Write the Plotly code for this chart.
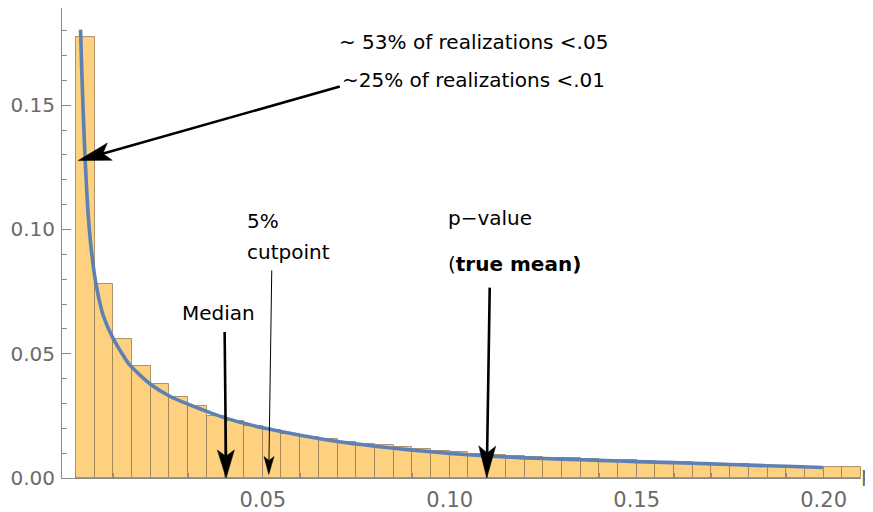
import math
import plotly.graph_objects as go

# ---------------- data ----------------
bin_width = 0.005
bin_left = [0.000, 0.005, 0.010, 0.015, 0.020, 0.025, 0.030, 0.035, 0.040, 0.045,
            0.050, 0.055, 0.060, 0.065, 0.070, 0.075, 0.080, 0.085, 0.090, 0.095,
            0.100, 0.105, 0.110, 0.115, 0.120, 0.125, 0.130, 0.135, 0.140, 0.145,
            0.150, 0.155, 0.160, 0.165, 0.170, 0.175, 0.180, 0.185, 0.190, 0.195,
            0.200, 0.205]
bin_height = [0.1775, 0.0781, 0.0561, 0.0450, 0.0379, 0.0325, 0.0288, 0.0251, 0.0229, 0.0211,
              0.0192, 0.0178, 0.0166, 0.0155, 0.0146, 0.0138, 0.0131, 0.0123, 0.0115, 0.0108,
              0.0103, 0.0097, 0.0093, 0.0089, 0.0085, 0.0082, 0.0079, 0.0076, 0.0073, 0.0071,
              0.0068, 0.0065, 0.0063, 0.0060, 0.0058, 0.0055, 0.0052, 0.0050, 0.0047, 0.0045,
              0.0046, 0.0046]

curve_p = [0.00126, 0.0016, 0.0020, 0.0025, 0.0033, 0.0042, 0.0054, 0.0073, 0.0100, 0.0144,
           0.0200, 0.0250, 0.0300, 0.0350, 0.0400, 0.0450, 0.0500, 0.0600, 0.0700, 0.0800,
           0.0900, 0.1000, 0.1100, 0.1200, 0.1300, 0.1400, 0.1500, 0.1600, 0.1700, 0.1800,
           0.1900, 0.1998]
curve_density = [0.1804, 0.1630, 0.1460, 0.1280, 0.1060, 0.0910, 0.0780, 0.0655, 0.0561, 0.0455,
                 0.0377, 0.0330, 0.0297, 0.0268, 0.0241, 0.0220, 0.0202, 0.0172, 0.0147, 0.0128,
                 0.0112, 0.0099, 0.0089, 0.0081, 0.0076, 0.0071, 0.0066, 0.0062, 0.0057, 0.0052,
                 0.0047, 0.0042]

x_tick_vals = [0.05, 0.10, 0.15, 0.20]
x_tick_text = ["0.05", "0.10", "0.15", "0.20"]
y_tick_vals = [0.00, 0.05, 0.10, 0.15]
y_tick_text = ["0.00", "0.05", "0.10", "0.15"]

# text labels: (text, x, y) in data coordinates, left aligned, vertically centred
label_text = ["~ 53% of realizations <.05", "~25% of realizations <.01", "5%", "cutpoint",
              "Median", "p\u2212value", "(<b>true mean)</b>"]
label_x = [0.0698, 0.0706, 0.0452, 0.0452, 0.0279, 0.0989, 0.0989]
label_y = [0.1755, 0.1600, 0.1035, 0.0910, 0.0665, 0.1045, 0.0860]

# arrows: tail (x, y) -> tip (x, y)
arrow_tail_x = [0.0706, 0.0398, 0.0524, 0.1107]
arrow_tail_y = [0.1575, 0.0587, 0.0835, 0.0766]
arrow_tip_x = [0.00060, 0.0402, 0.0516, 0.1099]
arrow_tip_y = [0.1277, 0.0000, 0.0014, 0.0000]
arrow_line_w = [2.6, 2.6, 1.0, 2.6]
arrow_head_len = [33, 28, 18, 32]
arrow_head_wid = [18, 17, 10, 17]

# ---------------- layout geometry ----------------
# the page places the figure 8px from the top-left corner of the window
W, H = 865, 504
ML, MR, MT, MB = 54, 12, 0, 33.5
X_RANGE = [-0.0037, 0.2100]
Y_RANGE = [0.0, 0.1891]
plot_w = W - ML - MR
plot_h = H - MT - MB
sx = plot_w / (X_RANGE[1] - X_RANGE[0])
sy = plot_h / (Y_RANGE[1] - Y_RANGE[0])

FONT = "DejaVu Sans"
GRAY = "#6a6a6a"
AXIS = "#8a8a8a"

fig = go.Figure()
fig.add_trace(go.Bar(
    x=bin_left, y=bin_height, width=bin_width, offset=0,
    marker=dict(color="#FDD17F", line=dict(color="rgba(155,125,85,0.8)", width=1)),
    hoverinfo="skip", showlegend=False))
fig.add_trace(go.Scatter(
    x=curve_p, y=curve_density, mode="lines",
    line=dict(color="#5E81B5", width=3.6, shape="spline", smoothing=0.6),
    hoverinfo="skip", showlegend=False, cliponaxis=False))

shapes = []
for tx, ty, hx, hy, lw, L, Wd in zip(arrow_tail_x, arrow_tail_y, arrow_tip_x, arrow_tip_y,
                                     arrow_line_w, arrow_head_len, arrow_head_wid):
    dx = (hx - tx) * sx
    dy = (hy - ty) * sy          # upward positive
    n = math.hypot(dx, dy)
    ux, uy = dx / n, dy / n
    px, py = -uy, ux
    bx, by = -L * ux, -L * uy
    p1 = (bx + px * Wd / 2, by + py * Wd / 2)
    p2 = (bx - px * Wd / 2, by - py * Wd / 2)
    nt = (-0.78 * L * ux, -0.78 * L * uy)
    ex = hx - 0.6 * L * ux / sx
    ey = hy - 0.6 * L * uy / sy
    shapes.append(dict(type="line", xref="x", yref="y", x0=tx, y0=ty, x1=ex, y1=ey,
                       line=dict(color="black", width=lw)))
    path = "M0,0 L{:.2f},{:.2f} L{:.2f},{:.2f} L{:.2f},{:.2f} Z".format(
        p1[0], p1[1], nt[0], nt[1], p2[0], p2[1])
    shapes.append(dict(type="path", xref="x", yref="y", xsizemode="pixel", ysizemode="pixel",
                       xanchor=hx, yanchor=hy, path=path,
                       fillcolor="black", line=dict(color="black", width=0.5)))

annotations = []
for t, x, y in zip(label_text, label_x, label_y):
    annotations.append(dict(text=t, x=x, y=y, xref="x", yref="y", xanchor="left",
                            yanchor="middle", showarrow=False,
                            font=dict(family=FONT, size=20, color="black")))
annotations.append(dict(text="p", x=1.0, y=0.0, xref="paper", yref="y", xanchor="left",
                        yanchor="middle", yshift=3, xshift=-2, showarrow=False,
                        font=dict(family=FONT, size=21, color=GRAY)))

fig.update_layout(
    width=W, height=H, margin=dict(l=ML, r=MR, t=MT, b=MB, pad=0, autoexpand=False),
    paper_bgcolor="white", plot_bgcolor="white",
    shapes=shapes, annotations=annotations,
    bargap=0,
    xaxis=dict(range=X_RANGE, showgrid=False, zeroline=False, showline=True, automargin=False,
               linecolor=AXIS, linewidth=1, ticks="inside", ticklen=8, tickcolor=AXIS,
               tickvals=x_tick_vals, ticktext=x_tick_text, ticklabelstandoff=3,
               tickfont=dict(family=FONT, size=21, color=GRAY),
               minor=dict(dtick=0.01, tick0=0, ticks="inside", ticklen=5, tickcolor=AXIS)),
    yaxis=dict(range=Y_RANGE, showgrid=False, zeroline=False, showline=True, automargin=False,
               linecolor=AXIS, linewidth=1, ticks="inside", ticklen=9, tickcolor=AXIS,
               tickvals=y_tick_vals, ticktext=y_tick_text, ticklabelstandoff=2,
               tickfont=dict(family=FONT, size=20, color=GRAY),
               minor=dict(dtick=0.01, tick0=0, ticks="inside", ticklen=5, tickcolor=AXIS)),
)

fig.write_html("out.html")
